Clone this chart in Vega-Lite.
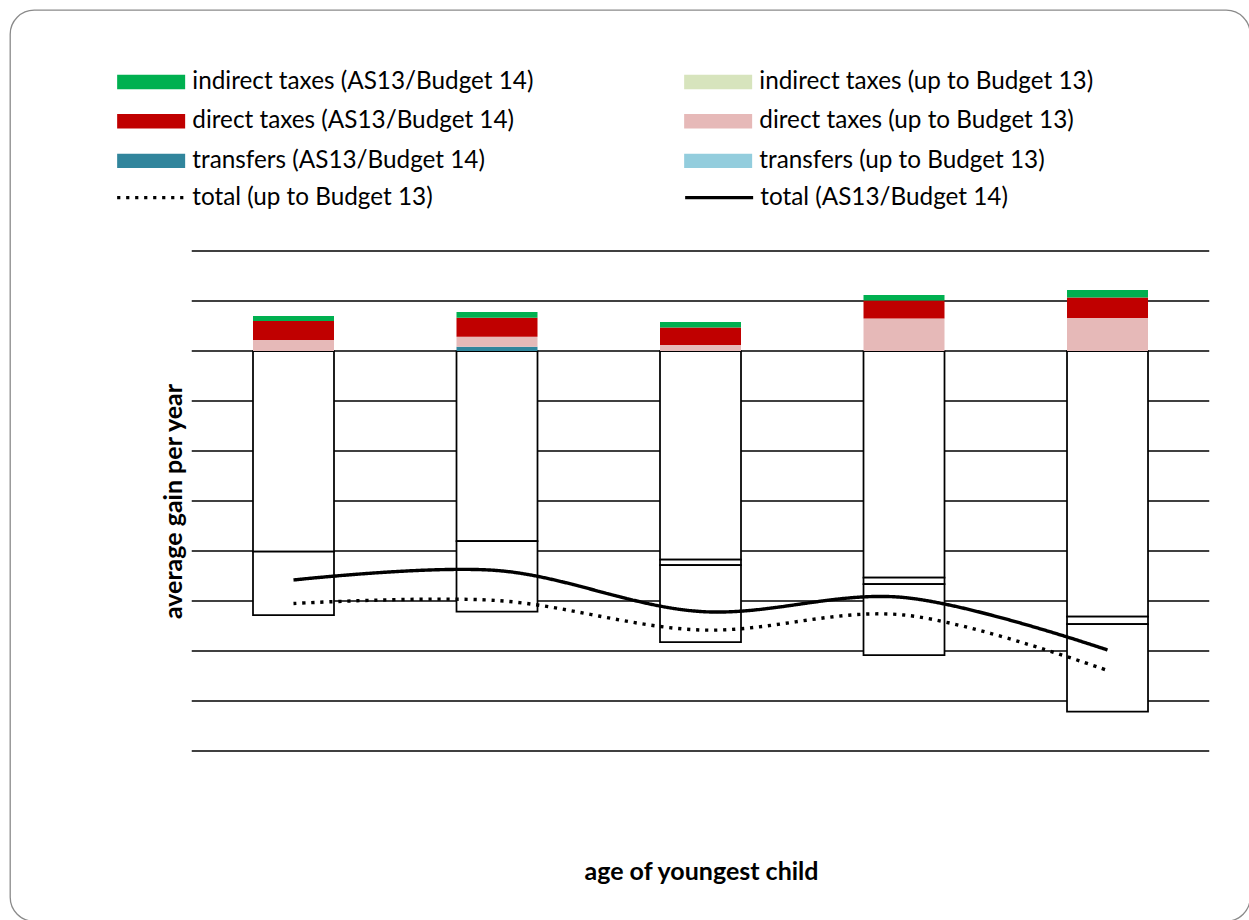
{
  "$schema": "https://vega.github.io/schema/vega-lite/v6.json",
  "width": 1240,
  "height": 911,
  "autosize": {"type": "none"},
  "padding": {"left": 10, "top": 10, "right": 0, "bottom": 0},
  "background": "white",
  "config": {
    "font": "Lato",
    "view": {"stroke": "#8a8a8a", "strokeWidth": 1.3, "cornerRadius": 24},
    "axis": {"labels": false, "ticks": false, "domain": false, "grid": false, "titleFont": "Lato", "titleFontWeight": "bold", "titleFontSize": 25, "titleColor": "#000"}
  },
  "datasets": {
    "gridlines": [
      {"value": 200}, {"value": 100}, {"value": 0}, {"value": -100}, {"value": -200}, {"value": -300},
      {"value": -400}, {"value": -500}, {"value": -600}, {"value": -700}, {"value": -800}
    ],
    "comp": [
      {"group": 1, "series": "transfers (up to Budget 13)", "value": -401},
      {"group": 1, "series": "direct taxes (up to Budget 13)", "value": 22},
      {"group": 1, "series": "direct taxes (AS13/Budget 14)", "value": 38},
      {"group": 1, "series": "indirect taxes (up to Budget 13)", "value": -127},
      {"group": 1, "series": "indirect taxes (AS13/Budget 14)", "value": 10},
      {"group": 2, "series": "transfers (up to Budget 13)", "value": -380},
      {"group": 2, "series": "transfers (AS13/Budget 14)", "value": 8.6},
      {"group": 2, "series": "direct taxes (up to Budget 13)", "value": 20},
      {"group": 2, "series": "direct taxes (AS13/Budget 14)", "value": 38},
      {"group": 2, "series": "indirect taxes (up to Budget 13)", "value": -141},
      {"group": 2, "series": "indirect taxes (AS13/Budget 14)", "value": 11.4},
      {"group": 3, "series": "transfers (up to Budget 13)", "value": -417},
      {"group": 3, "series": "transfers (AS13/Budget 14)", "value": -11},
      {"group": 3, "series": "direct taxes (up to Budget 13)", "value": 12},
      {"group": 3, "series": "direct taxes (AS13/Budget 14)", "value": 35},
      {"group": 3, "series": "indirect taxes (up to Budget 13)", "value": -154},
      {"group": 3, "series": "indirect taxes (AS13/Budget 14)", "value": 11},
      {"group": 4, "series": "transfers (up to Budget 13)", "value": -453},
      {"group": 4, "series": "transfers (AS13/Budget 14)", "value": -13},
      {"group": 4, "series": "direct taxes (up to Budget 13)", "value": 65},
      {"group": 4, "series": "direct taxes (AS13/Budget 14)", "value": 36},
      {"group": 4, "series": "indirect taxes (up to Budget 13)", "value": -142},
      {"group": 4, "series": "indirect taxes (AS13/Budget 14)", "value": 11},
      {"group": 5, "series": "transfers (up to Budget 13)", "value": -531},
      {"group": 5, "series": "transfers (AS13/Budget 14)", "value": -15},
      {"group": 5, "series": "direct taxes (up to Budget 13)", "value": 66},
      {"group": 5, "series": "direct taxes (AS13/Budget 14)", "value": 41},
      {"group": 5, "series": "indirect taxes (up to Budget 13)", "value": -175},
      {"group": 5, "series": "indirect taxes (AS13/Budget 14)", "value": 15}
    ],
    "tot": [
      {"group": 1, "series": "total (AS13/Budget 14)", "value": -458},
      {"group": 2, "series": "total (AS13/Budget 14)", "value": -439},
      {"group": 3, "series": "total (AS13/Budget 14)", "value": -521},
      {"group": 4, "series": "total (AS13/Budget 14)", "value": -493},
      {"group": 5, "series": "total (AS13/Budget 14)", "value": -598},
      {"group": 1, "series": "total (up to Budget 13)", "value": -505},
      {"group": 2, "series": "total (up to Budget 13)", "value": -499},
      {"group": 3, "series": "total (up to Budget 13)", "value": -558},
      {"group": 4, "series": "total (up to Budget 13)", "value": -528},
      {"group": 5, "series": "total (up to Budget 13)", "value": -639}
    ]
  },
  "layer": [
    {
      "data": {"name": "gridlines"},
      "mark": {"type": "rule", "color": "#000", "strokeWidth": 1.5},
      "encoding": {
        "y": {"field": "value", "type": "quantitative", "scale": {"domain": [-1140, 682], "nice": false, "zero": false, "padding": 0},
          "axis": {"title": "average gain per year", "titleX": 163, "titleY": 491, "titleBaseline": "middle", "titleAngle": -90, "titleAlign": "center"}},
        "x": {"datum": 0.5, "type": "quantitative", "scale": {"domain": [-0.3931, 5.7002], "nice": false, "zero": false, "padding": 0},
          "axis": {"title": "age of youngest child", "titleX": 691, "titleY": -50, "titleBaseline": "middle", "titleAngle": 0, "titleAlign": "center"}},
        "x2": {"datum": 5.5}
      }
    },
    {
      "data": {"name": "comp"},
      "transform": [{"calculate": "indexof(['transfers (up to Budget 13)','transfers (AS13/Budget 14)','direct taxes (up to Budget 13)','direct taxes (AS13/Budget 14)','indirect taxes (up to Budget 13)','indirect taxes (AS13/Budget 14)'], datum.series)", "as": "o"}],
      "mark": {"type": "bar", "width": 81, "stroke": "#000"},
      "encoding": {
        "x": {"field": "group", "type": "quantitative", "title": "age of youngest child"},
        "y": {"field": "value", "type": "quantitative", "title": "average gain per year"},
        "color": {
          "condition": {"test": "datum.value < 0", "value": "#ffffff"},
          "field": "series", "type": "nominal",
          "scale": {
            "domain": ["indirect taxes (AS13/Budget 14)", "direct taxes (AS13/Budget 14)", "transfers (AS13/Budget 14)", "indirect taxes (up to Budget 13)", "direct taxes (up to Budget 13)", "transfers (up to Budget 13)"],
            "range": ["#00b050", "#c00000", "#31859c", "#d7e4bd", "#e6b9b8", "#93cddd"]
          },
          "legend": {
            "title": null, "orient": "none", "legendX": 106, "legendY": 59.5, "columns": 2,
            "columnPadding": 149, "rowPadding": 14.6,
            "labelFont": "Lato", "labelFontSize": 24.3, "labelColor": "#000", "labelLimit": 600,
            "symbolType": "M-3.4,-0.72H3.4V0.72H-3.4Z", "symbolSize": 400, "symbolStrokeWidth": 0,
            "symbolOffset": 23, "labelOffset": 29
          }
        },
        "strokeWidth": {"condition": {"test": "datum.value < 0", "value": 1.75}, "value": 0},
        "order": {"field": "o", "type": "quantitative"}
      }
    },
    {
      "data": {"name": "tot"},
      "mark": {"type": "line", "interpolate": "cardinal", "strokeWidth": 3.4, "color": "#000"},
      "encoding": {
        "x": {"field": "group", "type": "quantitative", "title": "age of youngest child"},
        "y": {"field": "value", "type": "quantitative", "title": "average gain per year"},
        "strokeDash": {
          "field": "series", "type": "nominal",
          "scale": {"domain": ["total (up to Budget 13)", "total (AS13/Budget 14)"], "range": [[3.2, 5.8], [1, 0]]},
          "legend": {
            "title": null, "orient": "none", "legendX": 106, "legendY": 175.2, "columns": 2,
            "columnPadding": 245,
            "labelFont": "Lato", "labelFontSize": 24.3, "labelColor": "#000", "labelLimit": 600,
            "symbolType": "M-3.4,0H3.4", "symbolSize": 400, "symbolStrokeWidth": 3.2,
            "symbolStrokeColor": "#000", "symbolFillColor": "transparent",
            "symbolOffset": 23, "labelOffset": 29
          }
        }
      }
    }
  ]
}
